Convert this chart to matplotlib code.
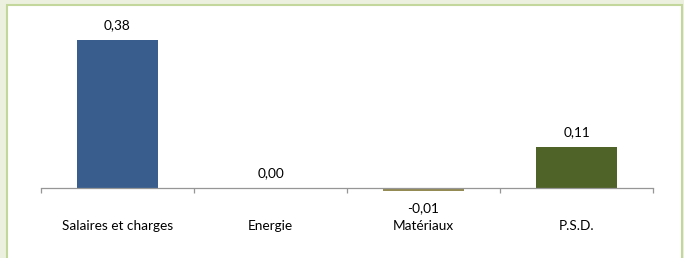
import matplotlib.pyplot as plt
from matplotlib.patches import Rectangle

categories = ["Salaires et charges", "Energie", "Matériaux", "P.S.D."]
values = [0.38, 0.00, -0.008, 0.106]
value_labels = ["0,38", "0,00", "-0,01", "0,11"]
colors = ["#395e8e", "#4f6228", "#948a54", "#4f6228"]

W, H = 684, 258
fig = plt.figure(figsize=(W / 100, H / 100), dpi=100)
fig.patch.set_facecolor("#ebf1de")

# white frame with green border
fig.patches.append(Rectangle((7 / W, -0.1), (682 - 7) / W, 1 - 5 / H + 0.1,
                             transform=fig.transFigure, facecolor="white",
                             edgecolor="#c3d69b", linewidth=1.5, zorder=-1))

ymin, ymax = -0.02, 0.42
px_per_unit = 389
zero_y = 188
top_px = zero_y - px_per_unit * ymax
bot_px = zero_y - px_per_unit * ymin
ax = fig.add_axes([41 / W, 1 - bot_px / H, (653 - 41) / W, (bot_px - top_px) / H])
ax.set_facecolor("none")
ax.set_zorder(2)

x = range(len(categories))
ax.bar(x, values, width=0.53, color=colors, zorder=2)
ax.set_xlim(-0.5, len(categories) - 0.5)
ax.set_ylim(ymin, ymax)

for s in ["top", "right", "left"]:
    ax.spines[s].set_visible(False)
ax.spines["bottom"].set_position(("data", 0))
ax.spines["bottom"].set_color("#969696")
ax.spines["bottom"].set_linewidth(0.9)
ax.set_yticks([])
ax.set_xticks([i - 0.5 for i in range(len(categories) + 1)])
ax.set_xticklabels([])
ax.tick_params(axis="x", direction="out", length=3.5, color="#969696", width=0.9)

font = dict(family="Lato", fontsize=9.8, color="black")
for i, (v, lab) in enumerate(zip(values, value_labels)):
    off = 10.5 if v >= 0 else -12
    ax.annotate(lab, (i, v), xytext=(0, off), textcoords="offset points",
                ha="center", va="center", annotation_clip=False, **font)
    ax.annotate(categories[i], (i, 0), xytext=(0, -27.5), textcoords="offset points",
                ha="center", va="center", annotation_clip=False, **font)

fig.savefig("out.png", dpi=100, facecolor=fig.get_facecolor())
